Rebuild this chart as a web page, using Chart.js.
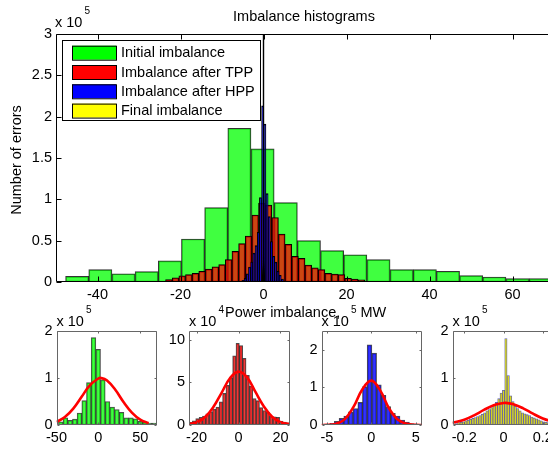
<!DOCTYPE html>
<html>
<head>
<meta charset="utf-8">
<script src="https://cdn.jsdelivr.net/npm/chart.js@4"></script>
<style>
  html, body { margin: 0; padding: 0; background: #fff; overflow: hidden; }
  #fig { position: relative; width: 548px; height: 449px; overflow: hidden; background: #fff; }
  #fig canvas { position: absolute; left: 0; top: 0; }
</style>
</head>
<body>
<div id="fig">
  <canvas id="mainChart" width="560" height="449"></canvas>
  <canvas id="sub1" width="560" height="449"></canvas>
  <canvas id="sub2" width="560" height="449"></canvas>
  <canvas id="sub3" width="560" height="449"></canvas>
  <canvas id="sub4" width="560" height="449"></canvas>
</div>
<script>
// -----------------------------
// Data (counts per bin)
// -----------------------------
const mainXTicks = [-40, -20, 0, 20, 40, 60];
const mainYTicks = [0, 50000, 100000, 150000, 200000, 250000, 300000];

const initialCenters = [-44.9, -39.32, -33.73, -28.15, -22.56, -16.98, -11.39, -5.81, -0.22, 5.37, 10.95,
  16.54, 22.12, 27.71, 33.29, 38.88, 44.46, 50.05, 55.63, 61.22, 66.8];
const initialCounts = [6900, 15000, 10000, 12500, 25500, 52000, 90000, 186000, 161000, 96000, 50000,
  38000, 33000, 27000, 15000, 15000, 13000, 7700, 6000, 4000, 4000];

const tppCenters = [-22.8, -21.2, -19.6, -18.0, -16.4, -14.8, -13.2, -11.6, -10.0, -8.4, -6.8, -5.2, -3.6, -2.0, -0.4,
  1.2, 2.8, 4.4, 6.0, 7.6, 9.2, 10.8, 12.4, 14.0, 15.6, 17.2, 18.8, 20.4, 22.0, 23.6];
const tppCounts = [3000, 5000, 7500, 9000, 10500, 13000, 15500, 18500, 21000, 27000, 37000, 46500, 55500, 81000, 95500,
  93000, 78000, 58000, 45500, 31000, 28500, 20500, 17000, 15000, 10500, 9500, 9000, 4500, 3500, 2500];

const hppCenters = [-4.94, -4.41, -3.89, -3.36, -2.83, -2.31, -1.78, -1.25, -0.73, -0.2, 0.33, 0.86, 1.38, 1.91,
  2.44, 2.96, 3.49, 4.02, 4.55];
const hppCounts = [2000, 4500, 10000, 18000, 24000, 35000, 44000, 60000, 102000, 213000, 191000, 107000, 79000, 49000,
  31000, 24000, 13000, 8000, 3500];

const finalCenters = [-0.24, -0.228, -0.216, -0.204, -0.192, -0.18, -0.168, -0.156, -0.144, -0.132, -0.12, -0.108,
  -0.096, -0.084, -0.072, -0.06, -0.048, -0.036, -0.024, -0.012, 0, 0.012, 0.024, 0.036, 0.048, 0.06, 0.072, 0.084,
  0.096, 0.108, 0.12, 0.132, 0.144, 0.156, 0.168, 0.18, 0.192, 0.204, 0.216, 0.228, 0.24];
const finalCounts = [3000, 5000, 6000, 7000, 9000, 10000, 12000, 14000, 16000, 18000, 20000, 23000,
  26000, 30000, 33000, 37000, 42000, 48000, 56000, 68000, 74000, 184000, 105000, 62000, 50000, 40000, 35000, 30000,
  26000, 24000, 22000, 20000, 17000, 15000, 13000, 11000, 9000, 7000, 6000, 5000, 3000];

// normal fits (red curves), read at a few points
const initialFitX = [-50, -40, -30, -20, -10, 0, 3, 10, 20, 30, 40, 50, 60];
const initialFitY = [6500, 17000, 35000, 60000, 85000, 99000, 100000, 95000, 75500, 49000, 26500, 11500, 4000];
const tppFitX = [-23.6, -20, -16, -12, -8, -4, 0, 4, 8, 12, 16, 20, 24.3];
const tppFitY = [1200, 3000, 9000, 21000, 38000, 55000, 62500, 56000, 39000, 22000, 9700, 3400, 1000];
const hppFitX = [-5.6, -5, -4, -3, -2, -1, 0, 1, 2, 3, 4, 5, 5.7];
const hppFitY = [100, 400, 3000, 15000, 48000, 95000, 118000, 92000, 44000, 14000, 3000, 400, 100];
const finalFitX = [-0.26, -0.2, -0.15, -0.1, -0.05, 0, 0.01, 0.05, 0.1, 0.15, 0.2, 0.255];
const finalFitY = [4400, 11200, 20600, 32000, 42000, 46800, 47000, 44300, 35500, 24000, 13900, 6200];

const zeroLineX = [0, 0];
const zeroLineY = [0, 300000];

const sub1XTicks = [-50, 0, 50];
const sub1YTicks = [0, 100000, 200000];
const sub2XTicks = [-20, 0, 20];
const sub2YTicks = [0, 50000, 100000];
const sub3XTicks = [-5, 0, 5];
const sub3YTicks = [0, 100000, 200000];
const sub4XTicks = [-0.2, 0, 0.2];
const sub4YTicks = [0, 100000, 200000];

// -----------------------------
// Look
// -----------------------------
const FONT = "'Liberation Sans', Arial, Helvetica, sans-serif";
const FS = 14.5;
const CW = 560, CH = 449;
const GREEN = "rgba(0,255,0,0.75)";
const RED = "rgba(255,0,0,0.72)";
const BLUE = "rgba(0,0,255,0.8)";
const YELLOW = "rgba(235,235,0,0.85)";

// -----------------------------
// Helpers
// -----------------------------
function pts(xs, ys) {
  return xs.map((x, i) => ({ x: x, y: ys[i] }));
}

function barSet(label, centers, counts, fill, edge, box, xlim, order, edgeWidth) {
  const pxPerUnit = (box.r - box.l) / (xlim[1] - xlim[0]);
  return {
    type: "bar",
    label: label,
    data: pts(centers, counts),
    backgroundColor: fill,
    borderColor: edge,
    borderWidth: edgeWidth || 1,
    borderSkipped: false,
    grouped: false,
    barThickness: (centers[1] - centers[0]) * pxPerUnit,
    order: order
  };
}

function fitSet(xs, ys) {
  return {
    type: "line",
    data: pts(xs, ys),
    borderColor: "#ff0000",
    borderWidth: 2.6,
    pointRadius: 0,
    tension: 0.4,
    order: 0
  };
}

// frame with inward ticks, free texts and legend, MATLAB style
const matlabAxes = {
  id: "matlabAxes",
  afterDraw(chart, args, o) {
    const ctx = chart.ctx;
    const a = chart.chartArea;
    const xs = chart.scales.x, ys = chart.scales.y;
    const L = Math.round(a.left) + 0.5, R = Math.round(a.right) - 0.5;
    const T = Math.round(a.top) + 0.5, B = Math.round(a.bottom) - 0.5;
    ctx.save();
    ctx.strokeStyle = o.color;
    ctx.lineWidth = 1;
    ctx.beginPath();
    ctx.moveTo(L, B); ctx.lineTo(L, T); ctx.lineTo(R, T); ctx.lineTo(R, B); ctx.closePath();
    xs.ticks.forEach(t => {
      const p = Math.round(xs.getPixelForValue(t.value)) + 0.5;
      ctx.moveTo(p, B); ctx.lineTo(p, B - o.tick);
      ctx.moveTo(p, T); ctx.lineTo(p, T + o.tick);
    });
    ys.ticks.forEach(t => {
      const p = Math.round(ys.getPixelForValue(t.value)) + 0.5;
      ctx.moveTo(L, p); ctx.lineTo(L + o.tick, p);
      ctx.moveTo(R, p); ctx.lineTo(R - o.tick, p);
    });
    ctx.stroke();

    (o.texts || []).forEach(t => {
      ctx.save();
      ctx.fillStyle = "#000";
      ctx.font = t.size + "px " + FONT;
      ctx.textAlign = t.align || "left";
      ctx.textBaseline = "middle";
      ctx.translate(t.x, t.y);
      if (t.rot) ctx.rotate(t.rot);
      ctx.fillText(t.text, 0, 0);
      ctx.restore();
    });

    if (o.legend) {
      const lg = o.legend;
      ctx.fillStyle = "#fff";
      ctx.fillRect(lg.x, lg.y, lg.w, lg.h);
      ctx.strokeStyle = "#000";
      ctx.strokeRect(lg.x + 0.5, lg.y + 0.5, lg.w, lg.h);
      ctx.font = FS + "px " + FONT;
      ctx.textBaseline = "middle";
      ctx.textAlign = "left";
      lg.items.forEach((it, i) => {
        const cy = lg.y + lg.first + i * lg.step;
        ctx.fillStyle = it.color;
        ctx.fillRect(lg.x + 10, cy - 7, 44, 14);
        ctx.strokeStyle = "#000";
        ctx.strokeRect(lg.x + 10.5, cy - 6.5, 44, 14);
        ctx.fillStyle = "#000";
        ctx.fillText(it.text, lg.x + 59, cy + 0.5);
      });
    }
    ctx.restore();
  }
};

function axesOptions(box, xlim, ylim, xTicks, yTicks, yDiv, frame) {
  return {
    responsive: false,
    animation: false,
    devicePixelRatio: 1,
    events: [],
    layout: { padding: { left: 0, right: CW - box.r, top: box.t, bottom: 0 } },
    plugins: { legend: { display: false }, title: { display: false }, tooltip: { enabled: false }, matlabAxes: frame },
    scales: {
      x: {
        type: "linear", min: xlim[0], max: xlim[1], offset: false,
        grid: { display: false, drawTicks: false }, border: { display: false },
        afterBuildTicks: s => { s.ticks = xTicks.map(v => ({ value: v })); },
        afterFit: s => { s.height = CH - box.b; },
        ticks: { color: "#000", font: { family: FONT, size: FS }, padding: 4.5, maxRotation: 0, autoSkip: false,
          callback: v => String(v) }
      },
      y: {
        type: "linear", min: ylim[0], max: ylim[1],
        grid: { display: false, drawTicks: false }, border: { display: false },
        afterBuildTicks: s => { s.ticks = yTicks.map(v => ({ value: v })); },
        afterFit: s => { s.width = box.l; },
        ticks: { color: "#000", font: { family: FONT, size: FS }, padding: 4, autoSkip: false,
          callback: v => String(v / yDiv) }
      }
    }
  };
}

function expText(x, y, power) {
  return [
    { text: "x 10", x: x, y: y, size: FS },
    { text: power, x: x + 29.5, y: y - 12, size: 10 }
  ];
}

// -----------------------------
// Main histogram
// -----------------------------
const mainBox = { l: 56, r: 554, t: 34, b: 282 };
const mainXlim = [-50, 70];

const mainDatasets = [
  barSet("Initial imbalance", initialCenters, initialCounts, GREEN, "rgba(0,0,0,0.8)", mainBox, mainXlim, 4),
  barSet("Imbalance after TPP", tppCenters, tppCounts, RED, "#000", mainBox, mainXlim, 3),
  barSet("Imbalance after HPP", hppCenters, hppCounts, BLUE, "#000", mainBox, mainXlim, 2),
  barSet("Final imbalance", finalCenters, finalCounts, "#000", "#000", mainBox, mainXlim, 1),
  { type: "line", data: pts(zeroLineX, zeroLineY), borderColor: "#000", borderWidth: 1.4, pointRadius: 0, order: 0 }
];

new Chart(document.getElementById("mainChart"), {
  type: "bar",
  data: { datasets: mainDatasets },
  plugins: [matlabAxes],
  options: axesOptions(mainBox, mainXlim, [0, 300000], mainXTicks, mainYTicks, 100000, {
    color: "#000",
    tick: 5,
    texts: [
      { text: "Imbalance histograms", x: 304, y: 17, size: FS, align: "center" },
      { text: "Number of errors", x: 17, y: 160, size: FS, align: "center", rot: -Math.PI / 2 },
      { text: "Power imbalance,     MW", x: 225, y: 313, size: FS }
    ].concat(expText(55, 23, "5")),
    legend: {
      x: 62, y: 40, w: 198, h: 80, first: 12.7, step: 19.3,
      items: [
        { text: "Initial imbalance", color: "#00ff00" },
        { text: "Imbalance after TPP", color: "#ff0000" },
        { text: "Imbalance after HPP", color: "#0000ff" },
        { text: "Final imbalance", color: "#ffff00" }
      ]
    }
  })
});

// -----------------------------
// Sub plots
// -----------------------------
function subPlot(id, box, xlim, ylim, xTicks, yTicks, yDiv, power, bars, fit) {
  new Chart(document.getElementById(id), {
    type: "bar",
    data: { datasets: [bars, fit] },
    plugins: [matlabAxes],
    options: axesOptions(box, xlim, ylim, xTicks, yTicks, yDiv, {
      color: "#666",
      tick: 2,
      texts: expText(box.l, 322, power)
    })
  });
}

const box1 = { l: 56.5, r: 157, t: 331, b: 425 };
const box2 = { l: 189, r: 289.5, t: 331, b: 425 };
const box3 = { l: 321.5, r: 422, t: 331, b: 425 };
const box4 = { l: 452.5, r: 554, t: 331, b: 425 };
const xlim1 = [-50, 70], xlim2 = [-23.6, 24.3], xlim3 = [-5.6, 5.7], xlim4 = [-0.26, 0.257];

subPlot("sub1", box1, xlim1, [0, 200000], sub1XTicks, sub1YTicks, 100000, "5",
  barSet("", initialCenters, initialCounts, GREEN, "rgba(0,0,0,0.7)", box1, xlim1, 1), fitSet(initialFitX, initialFitY));
subPlot("sub2", box2, xlim2, [0, 110000], sub2XTicks, sub2YTicks, 10000, "4",
  barSet("", tppCenters, tppCounts, RED, "rgba(0,0,0,0.7)", box2, xlim2, 1), fitSet(tppFitX, tppFitY));
subPlot("sub3", box3, xlim3, [0, 250000], sub3XTicks, sub3YTicks, 100000, "5",
  barSet("", hppCenters, hppCounts, BLUE, "rgba(0,0,0,0.7)", box3, xlim3, 1), fitSet(hppFitX, hppFitY));
subPlot("sub4", box4, xlim4, [0, 200000], sub4XTicks, sub4YTicks, 100000, "5",
  barSet("", finalCenters, finalCounts, YELLOW, "rgba(70,70,160,0.85)", box4, xlim4, 1, 0.8), fitSet(finalFitX, finalFitY));
</script>
</body>
</html>
